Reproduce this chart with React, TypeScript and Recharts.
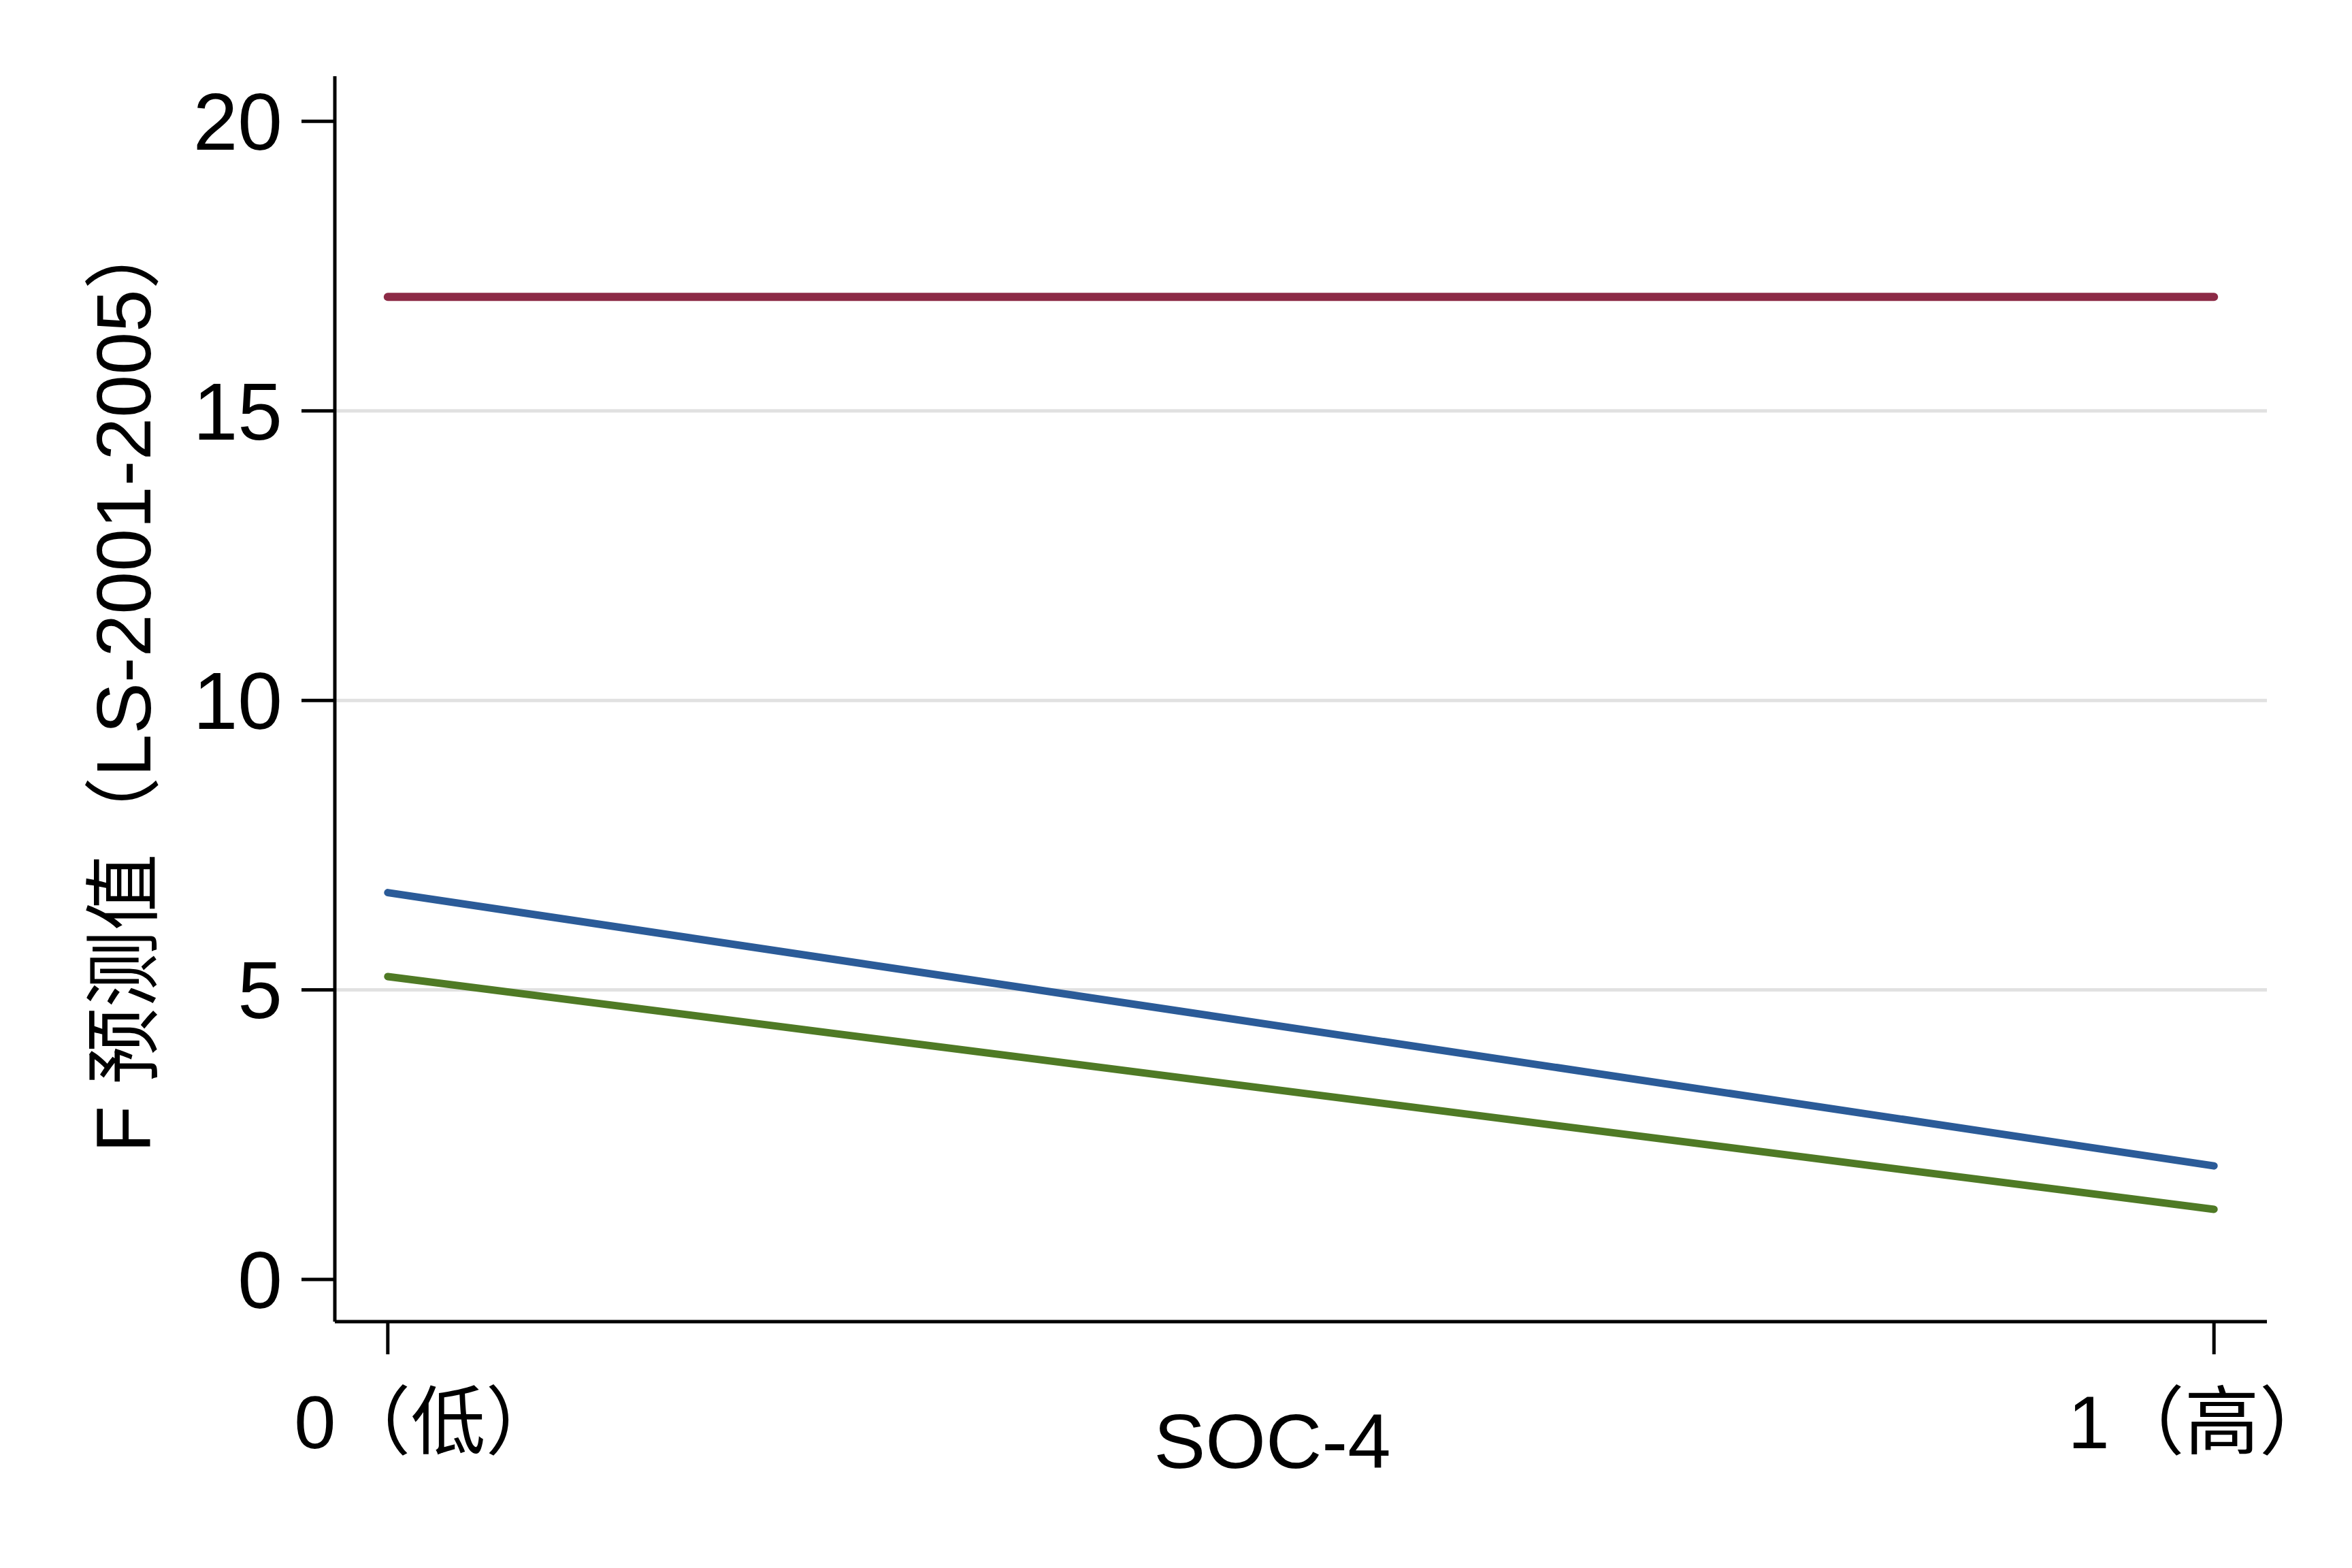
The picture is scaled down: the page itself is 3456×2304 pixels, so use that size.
import * as React from 'react'
import { CartesianGrid, Line, LineChart, ReferenceLine, XAxis, YAxis } from 'recharts'

// SOC-4 level (0 = low, 1 = high) and predicted F for the three groups
const socLevels = [0, 1]
const socTickLabels = ['0（低）', '1（高）']
const redSeries = [16.97, 16.97]
const blueSeries = [6.68, 1.96]
const greenSeries = [5.23, 1.21]
const yTicks = [0, 5, 10, 15, 20]
const gridValues = [5, 10, 15]

const FONT = "'Liberation Sans', Arial, 'Noto Sans CJK SC', sans-serif"

const rows = socLevels.map((soc, i) => ({
  soc,
  red: redSeries[i],
  blue: blueSeries[i],
  green: greenSeries[i],
}))

function SocTick(props: any) {
  const { x, y, payload, index } = props
  const i = socLevels.indexOf(payload.value)
  const shift = index === 0 ? 58 : -19
  return (
    <text
      x={x + shift}
      y={y}
      dy="0.71em"
      textAnchor="middle"
      fontSize={110}
      fontFamily={FONT}
      fill="#000"
    >
      {socTickLabels[i] ?? payload.value}
    </text>
  )
}

export default function App() {
  return (
    <div style={{ position: 'absolute', left: 0, top: 0, width: 3456, height: 2304, background: '#fff' }}>
      <LineChart
        width={3456}
        height={2304}
        data={rows}
        margin={{ top: 112, right: 125, left: 0, bottom: 0 }}
        style={{ fontFamily: FONT }}
      >
        <CartesianGrid horizontal={false} vertical={false} />
        {gridValues.map((v) => (
          <ReferenceLine key={v} y={v} stroke="#e1e1e1" strokeWidth={5} />
        ))}
        <XAxis
          type="number"
          dataKey="soc"
          domain={[-0.029, 1.029]}
          ticks={socLevels}
          height={362}
          stroke="#000"
          axisLine={{ stroke: '#000', strokeWidth: 5 }}
          tickLine={{ stroke: '#000', strokeWidth: 5 }}
          tickSize={48}
          tickMargin={60}
          tick={<SocTick />}
          interval={0}
          label={{
            value: 'SOC-4',
            position: 'insideBottom',
            offset: 147,
            dx: -42,
            fontSize: 114,
            fill: '#000',
            fontFamily: FONT,
          }}
        />
        <YAxis
          type="number"
          domain={[-0.73, 20.78]}
          ticks={yTicks}
          width={492}
          axisLine={{ stroke: '#000', strokeWidth: 5 }}
          tickLine={{ stroke: '#000', strokeWidth: 5 }}
          tickSize={49}
          tickMargin={28}
          tick={{ fontSize: 118, fill: '#000', fontFamily: FONT }}
          interval={0}
          allowDataOverflow
          label={{
            value: 'F 预测值（LS-2001-2005）',
            angle: -90,
            position: 'center',
            dx: -65,
            dy: -24,
            fontSize: 113,
            fill: '#000',
            fontFamily: FONT,
          }}
        />
        <Line
          dataKey="red"
          stroke="#8c2a46"
          strokeWidth={12}
          strokeLinecap="round"
          dot={false}
          activeDot={false}
          isAnimationActive={false}
        />
        <Line
          dataKey="blue"
          stroke="#2b5b98"
          strokeWidth={11}
          strokeLinecap="round"
          dot={false}
          activeDot={false}
          isAnimationActive={false}
        />
        <Line
          dataKey="green"
          stroke="#4f7a25"
          strokeWidth={11}
          strokeLinecap="round"
          dot={false}
          activeDot={false}
          isAnimationActive={false}
        />
      </LineChart>
    </div>
  )
}
